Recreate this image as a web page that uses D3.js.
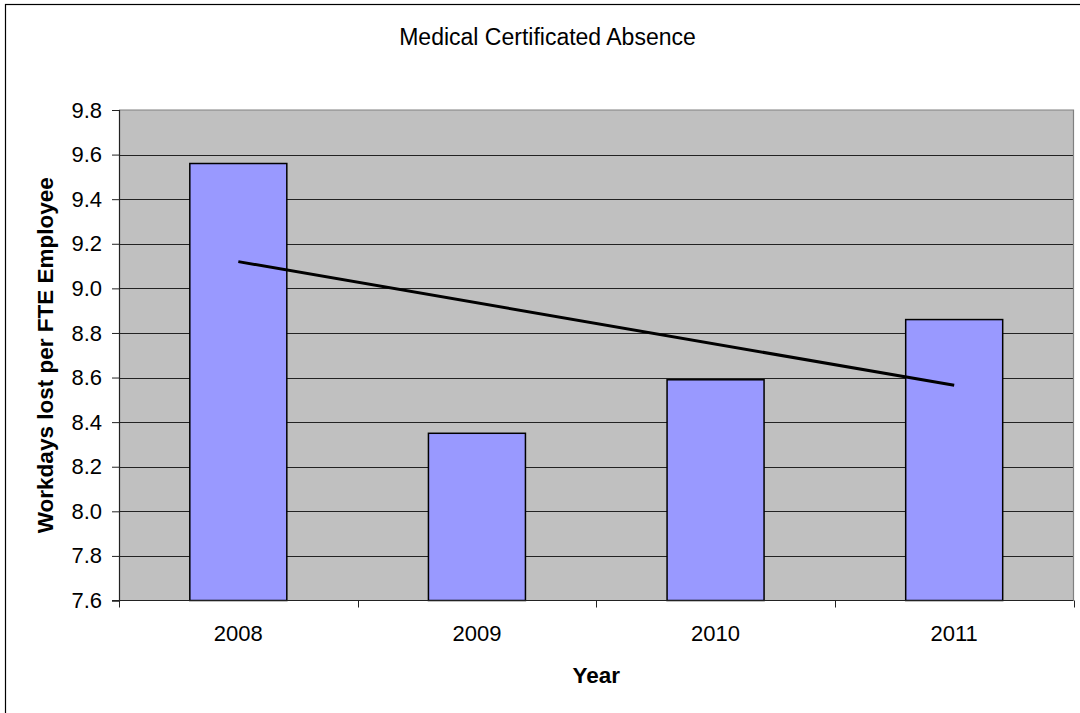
<!DOCTYPE html>
<html>
<head>
<meta charset="utf-8">
<script src="https://cdn.jsdelivr.net/npm/d3@7"></script>
<style>
  html, body { margin: 0; padding: 0; background: #fff; }
  svg { display: block; font-family: Arial, "Liberation Sans", sans-serif; }
</style>
</head>
<body>
<svg id="chart" width="1080" height="713"></svg>
<script>
const categories = ["2008", "2009", "2010", "2011"];
const values = [9.56, 8.35, 8.59, 8.86];
const trendCategories = ["2008", "2011"];
const trendValues = [9.12, 8.565];
const yTicks = [7.6, 7.8, 8.0, 8.2, 8.4, 8.6, 8.8, 9.0, 9.2, 9.4, 9.6, 9.8];
const titleText = "Medical Certificated Absence";
const xTitle = "Year";
const yTitle = "Workdays lost per FTE Employee";

const svg = d3.select("#chart");
const plot = { left: 119, right: 1073.5, top: 110, bottom: 600.5 };

// outer chart border (extends past canvas right/bottom)
svg.append("rect")
  .attr("x", 5.5).attr("y", 4.5)
  .attr("width", 1090).attr("height", 720)
  .attr("fill", "#fff").attr("stroke", "#000").attr("stroke-width", 1.2);

const x = d3.scaleBand().domain(categories).range([plot.left, plot.right]).paddingInner(0).paddingOuter(0);
const y = d3.scaleLinear().domain([7.6, 9.8]).range([plot.bottom, plot.top]);

// plot background
svg.append("rect")
  .attr("x", plot.left).attr("y", plot.top)
  .attr("width", plot.right - plot.left).attr("height", plot.bottom - plot.top)
  .attr("fill", "#C0C0C0");

// gridlines
svg.append("g").selectAll("line")
  .data(yTicks.filter(t => t > 7.6 && t < 9.8))
  .join("line")
  .attr("x1", plot.left).attr("x2", plot.right)
  .attr("y1", d => Math.round(y(d)) + 0.5).attr("y2", d => Math.round(y(d)) + 0.5)
  .attr("stroke", "#222").attr("stroke-width", 1);

// top and right plot border (gray)
svg.append("path")
  .attr("d", `M${plot.left},${plot.top}H${plot.right}V${plot.bottom}`)
  .attr("fill", "none").attr("stroke", "#808080").attr("stroke-width", 1.2);

// bars
const barW = 97;
svg.append("g").selectAll("rect")
  .data(values)
  .join("rect")
  .attr("x", (d, i) => x(categories[i]) + x.bandwidth() / 2 - barW / 2)
  .attr("y", d => y(d))
  .attr("width", barW)
  .attr("height", d => y(7.6) - y(d))
  .attr("fill", "#9999FF")
  .attr("stroke", "#000").attr("stroke-width", 1.5);

// y axis
const yAxis = d3.axisLeft(y).tickValues(yTicks).tickFormat(d3.format(".1f")).tickSize(7).tickPadding(10);
const gy = svg.append("g").attr("transform", `translate(${plot.left},0)`).call(yAxis);
gy.select(".domain").attr("stroke", "#222").attr("stroke-width", 1.2);
gy.selectAll(".tick line").attr("stroke", "#222");
gy.selectAll(".tick text").attr("font-size", "22px").attr("fill", "#000")
  .attr("font-family", "Arial, 'Liberation Sans', sans-serif");

// x axis: ticks at category boundaries
const xAxis = d3.axisBottom(x).tickSize(0).tickPadding(25);
const gx = svg.append("g").attr("transform", `translate(0,${plot.bottom})`).call(xAxis);
gx.select(".domain").remove();
gx.selectAll(".tick text").attr("font-size", "22px").attr("fill", "#000")
  .attr("font-family", "Arial, 'Liberation Sans', sans-serif");
svg.append("line")
  .attr("x1", plot.left - 7).attr("x2", plot.right)
  .attr("y1", plot.bottom).attr("y2", plot.bottom)
  .attr("stroke", "#222").attr("stroke-width", 1.2);
const boundaries = categories.map(c => x(c)).concat([x(categories[categories.length - 1]) + x.bandwidth()]);
svg.append("g").selectAll("line")
  .data(boundaries)
  .join("line")
  .attr("x1", d => Math.round(d) + 0.5).attr("x2", d => Math.round(d) + 0.5)
  .attr("y1", plot.bottom).attr("y2", plot.bottom + 7)
  .attr("stroke", "#222").attr("stroke-width", 1);

// trend line
const line = d3.line().x((d, i) => x(trendCategories[i]) + x.bandwidth() / 2).y(d => y(d));
svg.append("path")
  .datum(trendValues)
  .attr("d", line)
  .attr("fill", "none").attr("stroke", "#000").attr("stroke-width", 3);

// title
svg.append("text")
  .attr("x", 547.5).attr("y", 45)
  .attr("text-anchor", "middle")
  .attr("font-size", "23px")
  .text(titleText);

// axis titles
svg.append("text")
  .attr("x", (plot.left + plot.right) / 2).attr("y", 683)
  .attr("text-anchor", "middle").attr("font-weight", "bold")
  .attr("font-size", "22.5px")
  .text(xTitle);

svg.append("text")
  .attr("transform", `translate(53,${(plot.top + plot.bottom) / 2}) rotate(-90)`)
  .attr("text-anchor", "middle").attr("font-weight", "bold")
  .attr("font-size", "22.5px")
  .text(yTitle);
</script>
</body>
</html>
